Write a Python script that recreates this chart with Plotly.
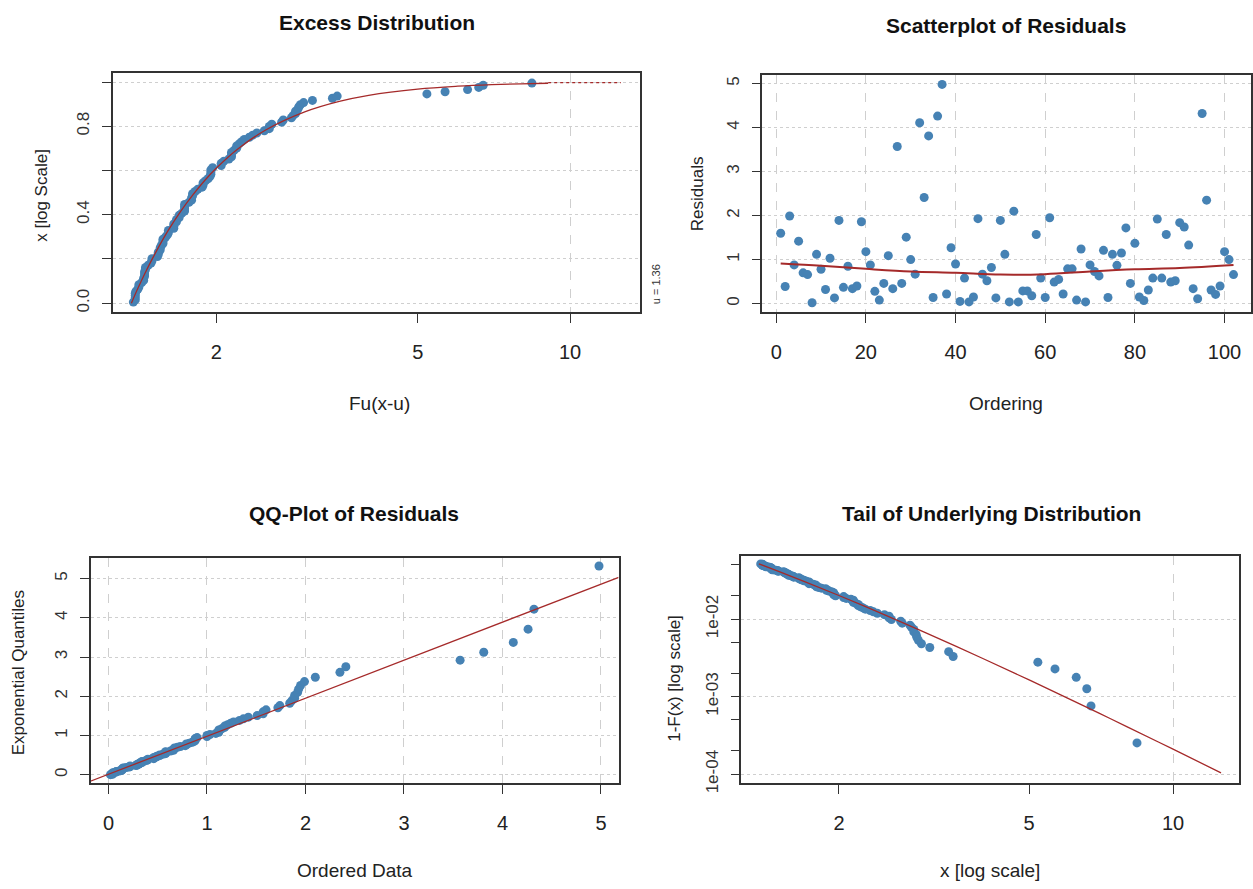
import plotly.graph_objects as go
import math

W, H = 1253, 889

u_threshold = 1.36
tail_fraction = 0.0516

residuals = [1.60, 0.39, 1.99, 0.88, 1.42, 0.70, 0.66, 0.02, 1.12, 0.78,
             0.32, 1.03, 0.13, 1.89, 0.37, 0.85, 0.34, 0.40, 1.86, 1.18,
             0.88, 0.28, 0.08, 0.46, 1.09, 0.34, 3.57, 0.46, 1.51, 1.00,
             0.67, 4.11, 2.41, 3.81, 0.14, 4.26, 4.98, 0.22, 1.27, 0.90,
             0.05, 0.58, 0.04, 0.15, 1.93, 0.67, 0.52, 0.82, 0.13, 1.89,
             1.12, 0.04, 2.10, 0.04, 0.29, 0.29, 0.18, 1.57, 0.58, 0.14,
             1.95, 0.49, 0.55, 0.22, 0.79, 0.79, 0.08, 1.24, 0.04, 0.88,
             0.73, 0.63, 1.21, 0.14, 1.12, 0.87, 1.15, 1.72, 0.46, 1.37,
             0.15, 0.07, 0.31, 0.58, 1.92, 0.58, 1.57, 0.49, 0.52, 1.84,
             1.74, 1.33, 0.34, 0.11, 4.32, 2.35, 0.31, 0.21, 0.40, 1.18,
             1.00, 0.66]
ordering = list(range(1, len(residuals) + 1))

exceedances = [1.372, 1.384, 1.384, 1.384, 1.384, 1.389, 1.401, 1.407, 1.407, 1.425,
               1.438, 1.438, 1.444, 1.444, 1.444, 1.450, 1.450, 1.468, 1.487, 1.493,
               1.493, 1.531, 1.537, 1.537, 1.550, 1.550, 1.557, 1.570, 1.570, 1.570,
               1.589, 1.602, 1.609, 1.609, 1.649, 1.649, 1.649, 1.669, 1.669, 1.690,
               1.690, 1.711, 1.732, 1.732, 1.732, 1.732, 1.767, 1.788, 1.788, 1.796,
               1.796, 1.817, 1.839, 1.876, 1.884, 1.884, 1.906, 1.929, 1.945, 1.952,
               1.952, 1.952, 1.968, 2.046, 2.046, 2.071, 2.119, 2.144, 2.144, 2.144,
               2.169, 2.195, 2.195, 2.220, 2.246, 2.272, 2.325, 2.361, 2.406, 2.489,
               2.546, 2.546, 2.575, 2.693, 2.713, 2.816, 2.837, 2.869, 2.869, 2.900,
               2.911, 2.933, 2.976, 3.098, 3.393, 3.467, 5.214, 5.663, 6.273, 6.600,
               6.736, 8.406]

lowess_x = [1, 10, 20, 30, 40, 50, 60, 70, 80, 90, 102]
lowess_y = [0.91, 0.86, 0.79, 0.73, 0.70, 0.66, 0.67, 0.73, 0.78, 0.81, 0.88]

excess_curve_x = [1.36, 1.40, 1.45, 1.5, 1.6, 1.7, 1.8, 1.9, 2.0, 2.2, 2.5, 3.0,
                  3.5, 4.0, 5.0, 6.0, 7.0, 8.0, 9.05]
excess_curve_y = [0.0, 0.066, 0.140, 0.206, 0.321, 0.414, 0.491, 0.556, 0.610,
                  0.695, 0.782, 0.866, 0.9125, 0.940, 0.968, 0.981, 0.988, 0.992, 0.9945]
excess_dotted_x = [9.05, 12.6]
excess_dotted_y = [0.997, 0.997]

tail_curve_x = [1.36, 1.5, 1.7, 2.0, 2.5, 3.0, 4.0, 5.0, 6.0, 7.0, 8.0, 10.0, 12.6]
tail_curve_y = [0.0516, 0.04096, 0.03023, 0.02012, 0.01126, 0.00690, 0.00310,
                0.00164, 0.000964, 0.000612, 0.000411, 0.000210, 0.000104]

qq_line_x = [-0.19, 5.18]
qq_line_y = [-0.17, 5.03]

# plotting positions
n = len(exceedances)
ppos = [(i - 0.5) / n for i in range(1, n + 1)]
sorted_res = sorted(residuals)
exp_quant = [-math.log(1 - p) for p in ppos]
tail_prob = [tail_fraction * (1 - p) for p in ppos]

PT = "#4682B4"
RED = "#A52A2A"
GRID = "#cfcfcf"
NARROW = "Liberation Sans Narrow, Arial Narrow, Liberation Sans, Arial"
REG = "Liberation Sans, Arial"


def dom_x(a, b):
    return [a / W, b / W]


def dom_y(top, bottom):
    return [1 - bottom / H, 1 - top / H]


fig = go.Figure()
mk = dict(color=PT, size=9)

# Panel 1: Excess distribution
fig.add_trace(go.Scatter(x=exceedances, y=ppos, mode="markers", marker=mk,
                         xaxis="x", yaxis="y"))
fig.add_trace(go.Scatter(x=excess_curve_x, y=excess_curve_y, mode="lines",
                         line=dict(color=RED, width=1.3, shape="spline"),
                         xaxis="x", yaxis="y"))
fig.add_trace(go.Scatter(x=excess_dotted_x, y=excess_dotted_y, mode="lines",
                         line=dict(color=RED, width=1.3, dash="dot"),
                         xaxis="x", yaxis="y"))

# Panel 2: scatter of residuals
fig.add_trace(go.Scatter(x=ordering, y=residuals, mode="markers", marker=mk,
                         xaxis="x2", yaxis="y2"))
fig.add_trace(go.Scatter(x=lowess_x, y=lowess_y, mode="lines",
                         line=dict(color=RED, width=2, shape="spline"),
                         xaxis="x2", yaxis="y2"))

# Panel 3: QQ plot
fig.add_trace(go.Scatter(x=sorted_res, y=exp_quant, mode="markers", marker=mk,
                         xaxis="x3", yaxis="y3"))
fig.add_trace(go.Scatter(x=qq_line_x, y=qq_line_y, mode="lines",
                         line=dict(color=RED, width=1.3),
                         xaxis="x3", yaxis="y3"))

# Panel 4: tail
fig.add_trace(go.Scatter(x=exceedances, y=tail_prob, mode="markers", marker=mk,
                         xaxis="x4", yaxis="y4"))
fig.add_trace(go.Scatter(x=tail_curve_x, y=tail_curve_y, mode="lines",
                         line=dict(color=RED, width=1.3, shape="spline"),
                         xaxis="x4", yaxis="y4"))

axis_common = dict(showline=True, mirror=True, linecolor="#333333", linewidth=1.5,
                   ticks="outside", ticklen=9, tickcolor="#333333", tickwidth=1.2,
                   zeroline=False)
xtick_font = dict(family=NARROW, size=20, color="#222222")
ytick_font = dict(family=REG, size=17, color="#333333")

log_x_common = dict(type="log", tickmode="array", tickvals=[2, 5, 10],
                    ticktext=["2", "5", "10"], showgrid=False,
                    minor=dict(tickmode="array", tickvals=[10], ticks="",
                               showgrid=True, gridcolor=GRID, griddash="dash",
                               gridwidth=1))

fig.update_layout(
    width=W, height=H, autosize=False,
    margin=dict(l=0, r=0, t=0, b=0),
    paper_bgcolor="white", plot_bgcolor="white",
    showlegend=False,
    xaxis=dict(domain=dom_x(113, 641), anchor="y", range=[0.097, 1.139],
               tickfont=xtick_font, ticklabelstandoff=12, **log_x_common, **axis_common),
    yaxis=dict(domain=dom_y(74, 316), anchor="x", range=[-0.042, 1.04],
               tickmode="array", tickvals=[0, 0.2, 0.4, 0.6, 0.8, 1.0],
               ticktext=["0.0", "", "0.4", "", "0.8", ""], tickangle=-90,
               showgrid=True, gridcolor=GRID, griddash="dot", gridwidth=1.2,
               tickfont=ytick_font, ticklabelstandoff=6, **axis_common),
    xaxis2=dict(domain=dom_x(763, 1252), anchor="y2", range=[-3.08, 105.9],
                tickmode="array", tickvals=[0, 20, 40, 60, 80, 100],
                showgrid=True, gridcolor=GRID, griddash="dash", gridwidth=1,
                tickfont=xtick_font, ticklabelstandoff=12, **axis_common),
    yaxis2=dict(domain=dom_y(76, 316), anchor="x2", range=[-0.2, 5.19],
                tickmode="array", tickvals=[0, 1, 2, 3, 4, 5], tickangle=-90,
                showgrid=True, gridcolor=GRID, griddash="dot", gridwidth=1.2,
                tickfont=ytick_font, ticklabelstandoff=6, **axis_common),
    xaxis3=dict(domain=dom_x(91, 619), anchor="y3", range=[-0.178, 5.178],
                tickmode="array", tickvals=[0, 1, 2, 3, 4, 5],
                showgrid=True, gridcolor=GRID, griddash="dash", gridwidth=1,
                tickfont=xtick_font, ticklabelstandoff=12, **axis_common),
    yaxis3=dict(domain=dom_y(564, 792), anchor="x3", range=[-0.21, 5.53],
                tickmode="array", tickvals=[0, 1, 2, 3, 4, 5], tickangle=-90,
                showgrid=True, gridcolor=GRID, griddash="dot", gridwidth=1.2,
                tickfont=ytick_font, ticklabelstandoff=6, **axis_common),
    xaxis4=dict(domain=dom_x(742, 1240), anchor="y4", range=[0.097, 1.138],
                tickfont=xtick_font, ticklabelstandoff=12, **log_x_common, **axis_common),
    yaxis4=dict(domain=dom_y(562, 792), anchor="x4", type="log", range=[-4.115, -1.183],
                tickmode="array", tickvals=[1e-4, 1e-3, 1e-2],
                ticktext=["1e-04", "1e-03", "1e-02"], tickangle=-90,
                showgrid=True, gridcolor=GRID, griddash="dot", gridwidth=1.2,
                minor=dict(tickmode="array", tickvals=[2e-4, 5e-4, 2e-3, 5e-3, 2e-2, 5e-2],
                           ticks="outside", ticklen=9, tickcolor="#333333",
                           tickwidth=1.2, showgrid=False),
                tickfont=ytick_font, ticklabelstandoff=6, **axis_common),
)


def px_ann(text, x, y, size, family, bold=False, angle=0, color="#111111",
           xanchor="center", yanchor="middle"):
    fig.add_annotation(text=("<b>%s</b>" % text) if bold else text,
                       x=x / W, y=1 - y / H, xref="paper", yref="paper",
                       showarrow=False, textangle=angle,
                       xanchor=xanchor, yanchor=yanchor,
                       font=dict(family=family, size=size, color=color))


# titles
px_ann("Excess Distribution", 377, 23, 21, NARROW, bold=True)
px_ann("Scatterplot of Residuals", 1007, 26, 21, NARROW, bold=True)
px_ann("QQ-Plot of Residuals", 354, 519, 21, NARROW, bold=True)
px_ann("Tail of Underlying Distribution", 992, 519, 21, NARROW, bold=True)

# x axis titles
px_ann("Fu(x-u)", 380, 408, 19, NARROW, color="#222222")
px_ann("Ordering", 1007, 408, 19, NARROW, color="#222222")
px_ann("Ordered Data", 355, 880, 19, NARROW, color="#222222")
px_ann("x [log scale]", 991, 880, 19, NARROW, color="#222222")

# y axis titles
px_ann("x [log Scale]", 42, 197, 17, REG, angle=-90, color="#222222")
px_ann("Residuals", 698, 196, 17, REG, angle=-90, color="#222222")
px_ann("Exponential Quantiles", 18, 680, 17, REG, angle=-90, color="#222222")
px_ann("1-F(x) [log scale]", 675, 686, 17, REG, angle=-90, color="#222222")

# threshold label
px_ann("u = %.2f" % u_threshold, 656, 287, 11, REG, angle=-90, color="#333333")

fig.write_html("out.html",
               config={"displayModeBar": False},
               post_script="document.body.style.margin='0';document.body.style.overflow='hidden';")
